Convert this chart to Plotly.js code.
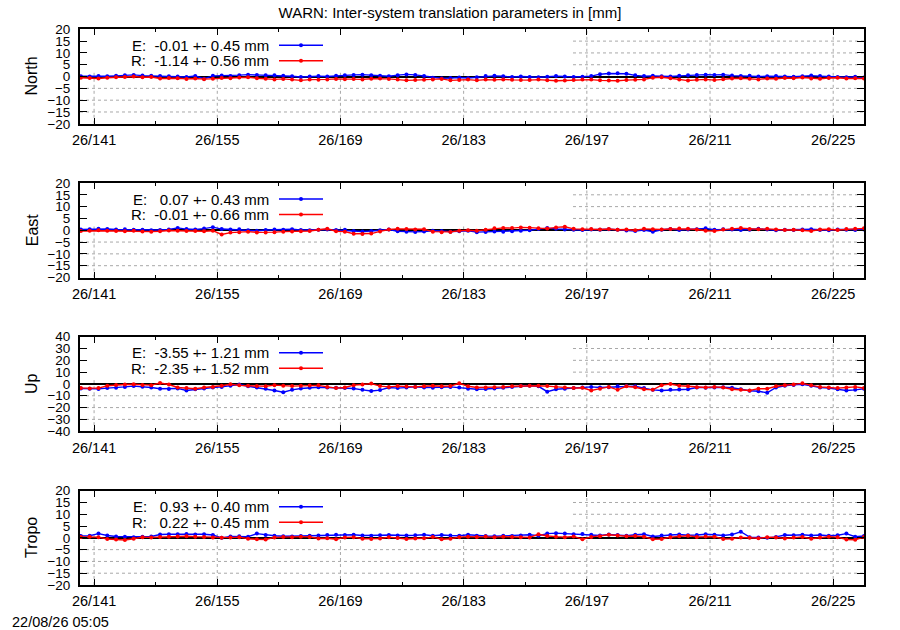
<!DOCTYPE html>
<html>
<head>
<meta charset="utf-8">
<script src="https://cdn.plot.ly/plotly-3.0.1.min.js"></script>
<style>
  html, body { margin: 0; padding: 0; background: #fff; }
  #myDiv { width: 900px; height: 630px; }
</style>
</head>
<body>
<div id="myDiv"></div>
<script>
// day of year (noon) for each daily solution
const days = [139.5,140.5,141.5,142.5,143.5,144.5,145.5,146.5,147.5,148.5,
  149.5,150.5,151.5,152.5,153.5,154.5,155.5,156.5,157.5,158.5,
  159.5,160.5,161.5,162.5,163.5,164.5,165.5,166.5,167.5,168.5,
  169.5,170.5,171.5,172.5,173.5,174.5,175.5,176.5,177.5,178.5,
  179.5,180.5,181.5,182.5,183.5,184.5,185.5,186.5,187.5,188.5,
  189.5,190.5,191.5,192.5,193.5,194.5,195.5,196.5,197.5,198.5,
  199.5,200.5,201.5,202.5,203.5,204.5,205.5,206.5,207.5,208.5,
  209.5,210.5,211.5,212.5,213.5,214.5,215.5,216.5,217.5,218.5,
  219.5,220.5,221.5,222.5,223.5,224.5,225.5,226.5,227.5,228.5];

const tickDays = [141, 155, 169, 183, 197, 211, 225];
const minorDays = [148, 162, 176, 190, 204, 218];

const northE = [0.1,0.0,0.2,0.1,0.3,0.6,0.7,0.4,0.3,0.2,
  0.1,0.0,-0.2,0.2,-0.9,0.3,0.4,0.2,0.6,0.8,
  0.7,0.6,0.5,0.3,0.1,-0.2,0.0,0.2,0.0,0.3,
  0.6,0.7,0.8,0.5,0.3,0.1,0.6,0.9,0.7,0.2,
  -0.5,-0.7,-0.6,-0.4,-0.6,-0.3,0.2,0.3,0.1,-0.2,
  0.0,-0.2,-0.3,-0.1,0.2,0.0,-0.2,-0.1,0.2,1.0,
  1.3,1.4,1.2,0.5,0.2,0.3,0.1,0.0,0.3,0.5,
  0.7,0.8,0.7,0.8,0.4,0.2,0.3,0.0,0.1,0.2,
  0.0,-0.1,0.1,0.4,0.2,0.0,-0.2,-0.3,-0.1,-0.4];
const northR = [-0.5,-0.6,-0.8,-0.5,-0.3,-0.2,0.0,-0.3,-0.2,-0.8,
  -0.6,-0.7,-1.0,-0.8,-1.1,-0.9,-0.6,-0.7,-0.4,-0.3,
  -0.7,-0.9,-1.2,-1.0,-1.3,-1.6,-1.3,-1.4,-1.2,-1.0,
  -1.1,-1.0,-1.2,-0.9,-0.8,-1.0,-1.3,-1.6,-1.5,-1.4,
  -1.2,-1.0,-1.6,-1.5,-1.3,-1.6,-1.3,-1.4,-1.2,-1.4,
  -1.5,-1.5,-1.3,-1.6,-1.8,-1.7,-1.5,-1.2,-1.3,-1.6,
  -1.7,-1.8,-1.5,-1.4,-1.2,-0.5,-0.3,-0.7,-1.2,-1.7,
  -1.4,-1.2,-1.5,-1.1,-0.8,-0.7,-0.9,-1.2,-0.8,-0.9,
  -0.6,-0.7,-0.4,-0.8,-0.9,-0.6,-0.5,-0.8,-0.7,-0.8];

const eastE = [0.3,0.4,0.6,0.5,0.3,0.4,0.2,0.2,0.0,0.1,
  0.3,1.0,0.5,0.3,0.7,1.3,0.5,0.3,0.4,0.0,
  -0.2,0.1,0.3,0.2,0.4,0.1,0.0,0.2,0.3,0.1,
  0.2,-0.3,-0.5,-0.3,0.0,0.3,-0.4,-0.6,-0.7,-0.5,
  -0.2,-0.3,-0.6,-0.4,-0.2,-0.8,-0.7,-0.5,-0.6,-0.4,
  -0.2,0.0,0.5,0.9,0.6,0.3,0.2,0.1,0.3,0.2,
  0.4,0.2,-0.1,-0.3,0.1,-0.6,0.2,0.5,0.1,0.3,
  0.4,0.8,0.2,0.4,0.3,0.1,0.2,0.6,0.3,0.0,
  0.2,0.1,0.3,0.4,0.1,0.0,0.3,0.2,0.1,0.3];
const eastR = [-0.3,-0.2,0.0,-0.2,-0.3,-0.4,-0.2,-0.5,-0.6,-0.4,
  -0.1,-0.2,-0.3,-0.3,-0.4,-0.2,-1.8,-1.0,-0.8,-0.6,
  -0.9,-1.0,-0.8,-0.6,-0.5,-0.4,-0.3,0.2,0.6,-0.4,
  -0.6,-1.5,-1.6,-1.4,-0.5,0.3,0.6,0.5,0.3,0.4,
  -0.6,-0.8,-0.7,-0.2,0.0,-0.2,0.2,0.8,1.0,0.9,
  1.2,1.1,0.8,0.7,1.2,1.5,0.6,0.4,0.5,0.3,
  0.5,0.2,0.3,0.0,0.6,0.4,0.3,0.5,0.7,0.6,
  0.3,-0.2,-0.3,0.3,0.6,0.9,0.5,0.4,0.6,0.3,
  0.1,0.2,0.0,-0.3,0.3,0.4,0.1,0.5,0.6,0.8];

const upE = [-3.8,-4.0,-4.2,-3.5,-3.3,-2.5,-1.8,-2.3,-3.0,-4.0,
  -4.2,-3.8,-5.5,-4.5,-3.8,-3.0,-2.5,-1.5,-0.5,-2.0,
  -3.0,-4.0,-5.5,-7.0,-5.0,-3.8,-3.2,-2.8,-3.0,-3.2,
  -3.5,-3.8,-5.0,-6.0,-5.2,-3.0,-3.5,-3.0,-2.5,-3.0,
  -3.2,-2.8,-2.5,-3.0,-4.0,-4.5,-4.3,-3.8,-3.2,-2.5,
  -1.8,-1.5,-2.0,-6.5,-4.5,-4.0,-3.5,-3.0,-2.5,-3.0,
  -2.8,-2.0,-1.8,-2.0,-3.5,-5.0,-5.5,-5.0,-4.8,-4.5,
  -3.0,-3.2,-3.0,-2.8,-3.2,-4.5,-5.8,-6.2,-7.5,-3.0,
  -1.5,-0.8,-0.2,-1.5,-3.0,-3.5,-4.5,-5.5,-5.0,-4.0];
const upR = [-3.5,-3.8,-3.5,-1.5,-0.8,-0.5,-0.3,-0.8,-1.0,0.8,
  -0.5,-3.0,-3.5,-4.0,-3.0,-2.5,-1.5,-0.2,-1.2,-1.5,
  -1.8,-2.0,-1.0,-1.5,-1.8,-1.6,-1.4,-1.2,-2.5,-3.5,
  -3.0,-1.0,-0.5,0.3,-1.8,-2.5,-1.8,-2.2,-2.5,-2.0,
  -1.5,-2.0,-1.8,0.5,-2.0,-3.0,-3.0,-2.8,-2.5,-2.0,
  -1.8,-1.5,-1.5,-1.8,-2.5,-3.0,-3.5,-3.2,-5.5,-4.0,
  -2.5,-5.0,-2.0,-2.8,-4.5,-5.0,-1.0,0.0,-1.5,-2.0,
  -2.8,-3.0,-2.5,-3.0,-4.5,-5.0,-5.5,-4.0,-4.0,-2.0,
  -1.0,-0.5,0.5,-1.2,-2.5,-3.0,-3.5,-3.0,-2.5,-3.5];

const tropoE = [0.8,0.9,1.8,1.0,0.6,0.5,0.3,0.5,0.6,1.4,
  1.5,1.5,1.6,1.4,1.5,1.2,0.0,0.6,0.7,0.5,
  1.8,1.2,0.9,0.7,0.6,0.8,0.9,1.0,1.2,1.3,
  1.2,1.3,1.0,0.9,1.1,1.2,1.0,1.0,1.1,1.3,
  0.9,1.2,1.0,0.9,1.3,0.9,0.8,0.7,0.9,0.8,
  1.0,1.3,0.9,1.8,2.0,1.8,1.5,1.6,1.3,1.0,
  1.4,1.2,0.9,1.3,1.5,0.6,1.0,1.2,1.4,1.1,
  1.2,1.5,1.3,1.0,1.4,2.6,0.3,0.1,0.0,0.4,
  1.2,1.1,1.3,1.0,1.2,0.9,1.1,1.8,0.5,0.8];
const tropoR = [0.4,0.5,0.3,-0.5,-0.7,-0.9,-0.4,0.3,0.2,0.4,
  0.5,0.6,0.7,0.5,0.4,0.2,0.0,0.1,0.3,-0.4,
  -0.6,-0.7,0.2,0.4,0.3,0.5,0.4,-0.3,-0.2,-0.6,
  0.2,0.3,-0.4,-0.5,-0.3,0.3,-0.1,-0.5,-0.3,-0.2,
  0.4,-0.6,-0.4,0.3,0.5,0.4,0.6,0.3,0.5,0.4,
  0.3,0.2,1.5,0.8,0.5,0.3,0.6,-0.6,0.4,0.7,
  1.3,1.0,0.7,0.8,0.5,-0.6,-0.5,0.3,0.7,0.9,
  0.4,0.6,0.5,-0.5,-0.4,0.2,0.0,-0.2,0.3,0.2,
  -0.3,0.1,0.4,-0.4,0.2,0.5,0.3,-0.7,-0.8,0.4];

const panelNames = ['North', 'East', 'Up', 'Tropo'];
const seriesE = [northE, eastE, upE, tropoE];
const seriesR = [northR, eastR, upR, tropoR];
// gnuplot key text, "%6.2f" style padding kept with no-break spaces
const labelE = ['E:  -0.01 +- 0.45 mm', 'E:   0.07 +- 0.43 mm', 'E:  -3.55 +- 1.21 mm', 'E:   0.93 +- 0.40 mm'];
const labelR = ['R:  -1.14 +- 0.56 mm', 'R:  -0.01 +- 0.66 mm', 'R:  -2.35 +- 1.52 mm', 'R:   0.22 +- 0.45 mm'];
const yLimits = [20, 20, 40, 20];
const yStep = [5, 5, 10, 5];

const BLUE = '#0000ff';
const RED = '#ff0000';
const GRID = '#a8a8a8';
const FONT = 'Liberation Sans, Arial, sans-serif';
const X_RANGE = [139.4, 228.5];

// page geometry (pixels) -> paper coords
const L = 80, R = 864, T = 29, B = 585;
const px = x => (x - L) / (R - L);
const py = y => (B - y) / (B - T);
const panelTop = [29.3, 183, 336.7, 490.7];
const panelH = 94.5;
const nb = s => s.replace(/ /g, '\u00a0');
// the opaque key box covers the top-left of each panel
const keyRight = X_RANGE[0] + px(573) * (X_RANGE[1] - X_RANGE[0]);
const keyDepth = 41 / panelH;

var data = [];
var layout = {
  width: 900, height: 630,
  margin: {l: L, r: 900 - R, t: T, b: 630 - B},
  paper_bgcolor: '#fff', plot_bgcolor: '#fff',
  showlegend: false,
  font: {family: FONT, size: 14, color: '#000'},
  title: {text: 'WARN: Inter-system translation parameters in [mm]',
          x: 0.5, xref: 'container', xanchor: 'center',
          y: 1 - 13 / 630, yref: 'container', yanchor: 'middle',
          font: {family: FONT, size: 15, color: '#000'}},
  annotations: [],
  shapes: []
};

for (let p = 0; p < 4; p++) {
  const n = p === 0 ? '' : String(p + 1);
  const xa = 'x' + n, ya = 'y' + n;
  const top = panelTop[p], bot = top + panelH;
  const lim = yLimits[p];
  const keyBottom = lim - keyDepth * 2 * lim;

  data.push({x: days, y: seriesE[p], xaxis: xa, yaxis: ya, type: 'scatter', mode: 'lines+markers',
    line: {color: BLUE, width: 1.4}, marker: {color: BLUE, size: 4}, name: 'E'});
  data.push({x: days, y: seriesR[p], xaxis: xa, yaxis: ya, type: 'scatter', mode: 'lines+markers',
    line: {color: RED, width: 1.4}, marker: {color: RED, size: 4}, name: 'R'});

  layout['xaxis' + n] = {
    anchor: ya, domain: [0, 1], range: X_RANGE,
    tickmode: 'array', tickvals: tickDays, ticktext: tickDays.map(d => '26/' + d),
    ticks: 'inside', ticklen: 6, tickcolor: '#000', tickwidth: 1,
    ticklabelstandoff: 2,
    minor: {tickmode: 'array', tickvals: minorDays, ticks: 'inside', ticklen: 3, tickcolor: '#000', showgrid: false},
    showline: true, linecolor: '#000', linewidth: 2, mirror: 'ticks',
    showgrid: false, zeroline: false, tickfont: {family: FONT, size: 14.5}
  };
  layout['yaxis' + n] = {
    anchor: xa, domain: [py(bot), py(top)],
    range: [-lim, lim], dtick: yStep[p], tick0: 0,
    ticks: 'inside', ticklen: 7, tickcolor: '#000', tickwidth: 1,
    ticklabelstandoff: 5,
    showline: true, linecolor: '#000', linewidth: 2, mirror: 'ticks',
    showgrid: false,
    zeroline: true, zerolinecolor: '#000', zerolinewidth: 2,
    tickfont: {family: FONT, size: 13.5}
  };

  // dotted grid, left out where the opaque key sits
  for (let v = -lim + yStep[p]; v < lim; v += yStep[p]) {
    if (v === 0) continue;
    layout.shapes.push({type: 'line', xref: xa, yref: ya, layer: 'below',
      x0: v > keyBottom ? keyRight : X_RANGE[0], x1: X_RANGE[1], y0: v, y1: v,
      line: {color: GRID, width: 1, dash: 'dot'}});
  }
  tickDays.forEach(d => {
    layout.shapes.push({type: 'line', xref: xa, yref: ya, layer: 'below',
      x0: d, x1: d, y0: -lim, y1: d < keyRight ? keyBottom : lim,
      line: {color: GRID, width: 1, dash: 'dot'}});
  });

  // key entries
  const rows = [[labelE[p], BLUE, top + 16], [labelR[p], RED, top + 31.5]];
  rows.forEach(([txt, col, yy]) => {
    layout.annotations.push({xref: 'paper', yref: 'paper', x: px(271), y: py(yy),
      xanchor: 'right', yanchor: 'middle', showarrow: false, text: nb(txt),
      font: {family: FONT, size: 15, color: '#000'}});
    layout.shapes.push({type: 'line', xref: 'paper', yref: 'paper', layer: 'above',
      x0: px(279), x1: px(323), y0: py(yy), y1: py(yy), line: {color: col, width: 1.4}});
    layout.shapes.push({type: 'circle', xref: 'paper', yref: 'paper', layer: 'above',
      x0: px(299), x1: px(303), y0: py(yy + 2), y1: py(yy - 2),
      fillcolor: col, line: {color: col, width: 0}});
  });

  // axis name
  layout.annotations.push({xref: 'paper', yref: 'paper', x: px(32), y: py(top + panelH / 2),
    xanchor: 'center', yanchor: 'middle', textangle: -90, showarrow: false,
    text: panelNames[p], font: {family: FONT, size: 16, color: '#000'}});
}

// time stamp
layout.annotations.push({xref: 'paper', yref: 'paper', x: px(10), y: py(622),
  xanchor: 'left', yanchor: 'middle', showarrow: false, text: '22/08/26 05:05',
  font: {family: FONT, size: 14.5, color: '#000'}});

Plotly.newPlot('myDiv', data, layout, {displayModeBar: false, staticPlot: true});
</script>
</body>
</html>
